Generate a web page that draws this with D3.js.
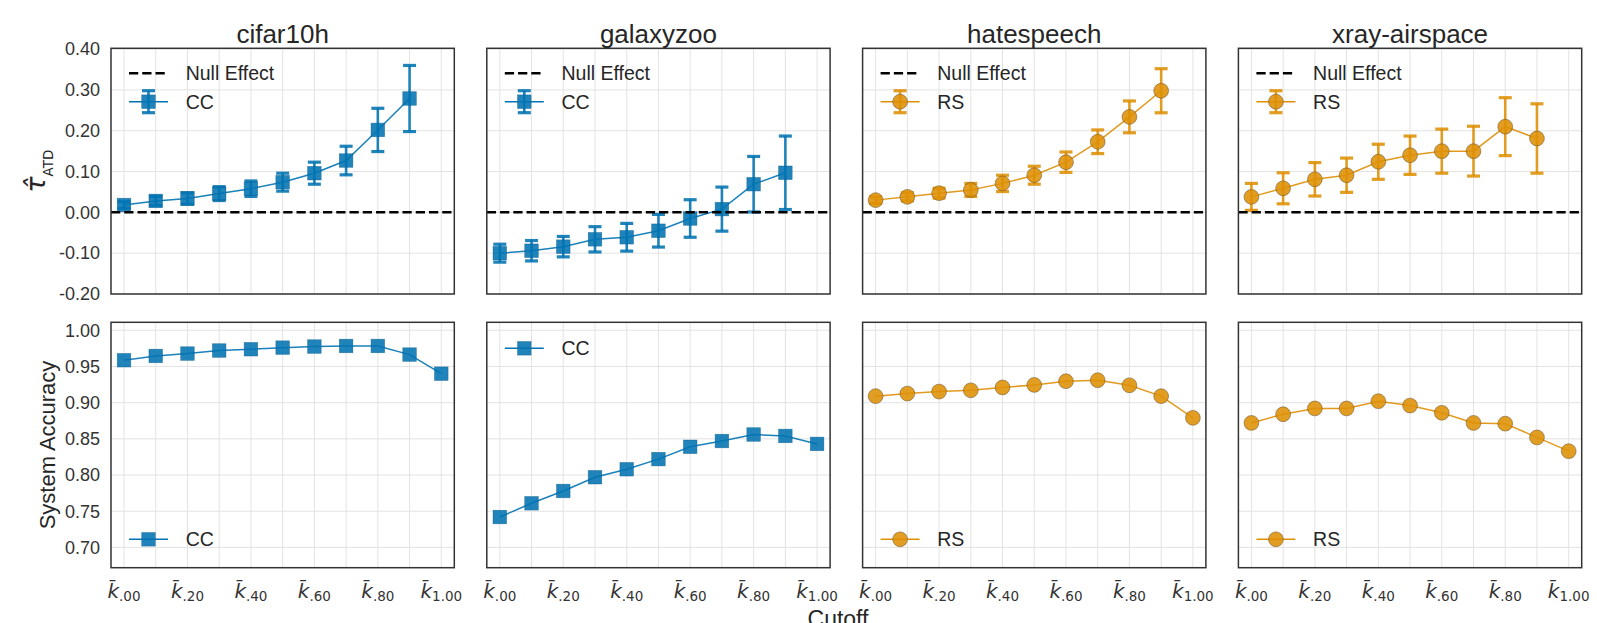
<!DOCTYPE html>
<html>
<head>
<meta charset="utf-8">
<script src="https://cdn.jsdelivr.net/npm/d3@7"></script>
<style>
body { margin: 0; background: #fff; }
text { font-family: "Liberation Sans", Arial, sans-serif; fill: #262626; }
</style>
</head>
<body>
<script>
// ---- data ----
var cutoffs = [0.0, 0.1, 0.2, 0.3, 0.4, 0.5, 0.6, 0.7, 0.8, 0.9, 1.0];
var datasets = ["cifar10h", "galaxyzoo", "hatespeech", "xray-airspace"];
var methods = ["CC", "CC", "RS", "RS"];

var tauCifar     = [0.018, 0.028, 0.034, 0.046, 0.058, 0.074, 0.096, 0.127, 0.202, 0.279];
var tauCifarErr  = [0.008, 0.011, 0.014, 0.017, 0.019, 0.022, 0.027, 0.035, 0.053, 0.081];
var tauGalaxy    = [-0.100, -0.094, -0.084, -0.066, -0.061, -0.045, -0.015, 0.008, 0.069, 0.097];
var tauGalaxyErr = [0.022, 0.025, 0.025, 0.031, 0.034, 0.040, 0.046, 0.054, 0.068, 0.090];
var tauHate      = [0.030, 0.038, 0.047, 0.055, 0.071, 0.091, 0.123, 0.173, 0.234, 0.298];
var tauHateErr   = [0.008, 0.010, 0.012, 0.016, 0.020, 0.022, 0.025, 0.029, 0.039, 0.054];
var tauXray      = [0.038, 0.059, 0.081, 0.091, 0.124, 0.140, 0.150, 0.150, 0.210, 0.181];
var tauXrayErr   = [0.033, 0.038, 0.041, 0.042, 0.043, 0.047, 0.054, 0.061, 0.071, 0.085];

var accCifar  = [0.9586, 0.9645, 0.9678, 0.9720, 0.9738, 0.9760, 0.9775, 0.9783, 0.9783, 0.9664, 0.9400];
var accGalaxy = [0.742, 0.761, 0.778, 0.797, 0.808, 0.822, 0.839, 0.847, 0.856, 0.854, 0.843];
var accHate   = [0.909, 0.9126, 0.9153, 0.917, 0.921, 0.9245, 0.9296, 0.931, 0.924, 0.909, 0.879];
var accXray   = [0.872, 0.884, 0.892, 0.892, 0.902, 0.896, 0.886, 0.872, 0.871, 0.852, 0.833];

var tauTicks = [-0.2, -0.1, 0.0, 0.1, 0.2, 0.3, 0.4];
var accTicks = [0.70, 0.75, 0.80, 0.85, 0.90, 0.95, 1.00];
var xTickVals = [0.0, 0.2, 0.4, 0.6, 0.8, 1.0];
var xTickSubs = [".00", ".20", ".40", ".60", ".80", "1.00"];

var accLegendPos = ["lower", "upper", "lower", "lower"];
var methodColor = { CC: "#0173b2", RS: "#de8f05" };

// ---- layout ----
var width = 1597, height = 623;
var panelW = 343.3, panelStep = 375.8, left0 = 111;
var topY = 48.3, topH = 245.7;
var botY = 322.3, botH = 245.4;

var svg = d3.select("body").append("svg")
    .attr("width", width)
    .attr("height", height);

var x = d3.scaleLinear().domain([-0.041, 1.041]).range([0, panelW]);
var yTop = d3.scaleLinear().domain([-0.2, 0.402]).range([topH, 0]);
var yBot = d3.scaleLinear().domain([0.672, 1.011]).range([botH, 0]);

var tauList = [tauCifar, tauGalaxy, tauHate, tauXray];
var errList = [tauCifarErr, tauGalaxyErr, tauHateErr, tauXrayErr];
var accList = [accCifar, accGalaxy, accHate, accXray];

function drawGrid(g, y, ticks, h) {
  g.selectAll(".hg").data(ticks).enter().append("line")
      .attr("x1", 0).attr("x2", panelW)
      .attr("y1", function (d) { return y(d); })
      .attr("y2", function (d) { return y(d); })
      .style("stroke", "#e3e3e3").style("stroke-width", 1);
  g.selectAll(".vg").data(cutoffs).enter().append("line")
      .attr("y1", 0).attr("y2", h)
      .attr("x1", function (d) { return x(d); })
      .attr("x2", function (d) { return x(d); })
      .style("stroke", "#e3e3e3").style("stroke-width", 1);
}

function drawFrame(g, h) {
  g.append("rect").attr("x", 0).attr("y", 0)
      .attr("width", panelW).attr("height", h)
      .style("fill", "none").style("stroke", "#333").style("stroke-width", 1.5);
}

function drawMarker(g, method, cx, cy) {
  var c = methodColor[method];
  if (method === "CC") {
    g.append("rect")
        .attr("x", cx - 6.8).attr("y", cy - 6.8)
        .attr("width", 13.6).attr("height", 13.6)
        .style("fill", c).style("fill-opacity", 0.88)
        .style("stroke", "#0b5a8a").style("stroke-width", 0.6).style("stroke-opacity", 0.6);
  } else {
    g.append("circle")
        .attr("cx", cx).attr("cy", cy).attr("r", 7.4)
        .style("fill", c).style("fill-opacity", 0.88)
        .style("stroke", "#6b5330").style("stroke-width", 0.9).style("stroke-opacity", 0.6);
  }
}

function drawErrBar(g, color, cx, y1, y2) {
  g.append("line").attr("x1", cx).attr("x2", cx).attr("y1", y1).attr("y2", y2)
      .style("stroke", color).style("stroke-width", 2.6).style("stroke-opacity", 0.88);
  [y1, y2].forEach(function (yy) {
    g.append("line").attr("x1", cx - 6.5).attr("x2", cx + 6.5).attr("y1", yy).attr("y2", yy)
        .style("stroke", color).style("stroke-width", 3.2).style("stroke-opacity", 0.88);
  });
}

function seriesLine(g, method, xs, ys, y) {
  var line = d3.line()
      .x(function (d, i) { return x(xs[i]); })
      .y(function (d) { return y(d); });
  g.append("path").datum(ys)
      .attr("d", line)
      .style("fill", "none")
      .style("stroke", methodColor[method])
      .style("stroke-width", 1.5)
      .style("stroke-opacity", 0.9);
}

datasets.forEach(function (name, i) {
  var method = methods[i];
  var color = methodColor[method];
  var px = left0 + i * panelStep;

  // ---------- top row: tau ----------
  var gt = svg.append("g").attr("transform", "translate(" + px + "," + topY + ")");
  drawGrid(gt, yTop, tauTicks, topH);

  var tau = tauList[i], err = errList[i];
  var xsTop = cutoffs.slice(0, tau.length);
  tau.forEach(function (v, j) {
    drawErrBar(gt, color, x(xsTop[j]), yTop(v + err[j]), yTop(v - err[j]));
  });
  seriesLine(gt, method, xsTop, tau, yTop);
  tau.forEach(function (v, j) { drawMarker(gt, method, x(xsTop[j]), yTop(v)); });

  gt.append("line")
      .attr("x1", 0).attr("x2", panelW)
      .attr("y1", yTop(0)).attr("y2", yTop(0))
      .style("stroke", "#000").style("stroke-width", 2.5)
      .style("stroke-dasharray", "9.25,4");

  drawFrame(gt, topH);

  // legend (top)
  var lg = gt.append("g").attr("transform", "translate(18,0)");
  lg.append("line").attr("x1", 0).attr("x2", 39).attr("y1", 25).attr("y2", 25)
      .style("stroke", "#000").style("stroke-width", 2.5).style("stroke-dasharray", "9.25,4");
  lg.append("text").attr("x", 56.7).attr("y", 25).attr("dy", "0.35em")
      .style("font-size", "19.5px").text("Null Effect");
  lg.append("line").attr("x1", 0).attr("x2", 39).attr("y1", 53.4).attr("y2", 53.4)
      .style("stroke", color).style("stroke-width", 1.5);
  drawErrBar(lg, color, 19.5, 53.4 - 11, 53.4 + 11);
  drawMarker(lg, method, 19.5, 53.4);
  lg.append("text").attr("x", 56.7).attr("y", 53.4).attr("dy", "0.35em")
      .style("font-size", "19.5px").text(method);

  // title
  svg.append("text")
      .attr("x", px + panelW / 2).attr("y", 43)
      .attr("text-anchor", "middle")
      .style("font-size", "26px")
      .text(name);

  // ---------- bottom row: accuracy ----------
  var gb = svg.append("g").attr("transform", "translate(" + px + "," + botY + ")");
  drawGrid(gb, yBot, accTicks, botH);
  var acc = accList[i];
  seriesLine(gb, method, cutoffs, acc, yBot);
  acc.forEach(function (v, j) { drawMarker(gb, method, x(cutoffs[j]), yBot(v)); });
  drawFrame(gb, botH);

  var ly = accLegendPos[i] === "upper" ? 26 : botH - 28.4;
  var lb = gb.append("g").attr("transform", "translate(18," + ly + ")");
  lb.append("line").attr("x1", 0).attr("x2", 39).attr("y1", 0).attr("y2", 0)
      .style("stroke", color).style("stroke-width", 1.5);
  drawMarker(lb, method, 19.5, 0);
  lb.append("text").attr("x", 56.7).attr("y", 0).attr("dy", "0.35em")
      .style("font-size", "19.5px").text(method);

  // x tick labels
  xTickVals.forEach(function (v, j) {
    var t = gb.append("text")
        .attr("x", x(v)).attr("y", botH + 30.5)
        .attr("text-anchor", "middle")
        .style("font-family", "'DejaVu Sans', sans-serif")
        .style("fill", "#333");
    t.append("tspan").style("font-style", "italic").style("font-size", "20px").text("k\u0304");
    t.append("tspan").style("font-size", "13.5px").attr("dy", 2.5).text(xTickSubs[j]);
  });

  // y tick labels on first column only
  if (i === 0) {
    var fmt = function (d) { return d.toFixed(2); };
    gt.append("g").call(d3.axisLeft(yTop).tickValues(tauTicks).tickSize(0).tickPadding(11).tickFormat(fmt))
        .call(function (a) { a.select(".domain").remove(); })
        .selectAll("text").style("font-size", "18px").style("font-family", "'Liberation Sans', Arial, sans-serif").style("fill", "#333");
    gb.append("g").call(d3.axisLeft(yBot).tickValues(accTicks).tickSize(0).tickPadding(11).tickFormat(fmt))
        .call(function (a) { a.select(".domain").remove(); })
        .selectAll("text").style("font-size", "18px").style("font-family", "'Liberation Sans', Arial, sans-serif").style("fill", "#333");
  }
});

// axis labels
var yl = svg.append("text")
    .attr("transform", "translate(45," + (topY + topH / 2) + ") rotate(-90)")
    .attr("text-anchor", "middle")
    .style("font-family", "'DejaVu Sans', sans-serif");
yl.append("tspan").style("font-style", "italic").style("font-size", "27px").text("\u03c4\u0302");
yl.append("tspan").style("font-size", "13.5px").attr("dy", 8).text("ATD");

svg.append("text")
    .attr("transform", "translate(55," + (botY + botH / 2) + ") rotate(-90)")
    .attr("text-anchor", "middle")
    .style("font-size", "22px")
    .text("System Accuracy");

svg.append("text")
    .attr("x", 838).attr("y", 627)
    .attr("text-anchor", "middle")
    .style("font-size", "23px")
    .text("Cutoff");
</script>
</body>
</html>
